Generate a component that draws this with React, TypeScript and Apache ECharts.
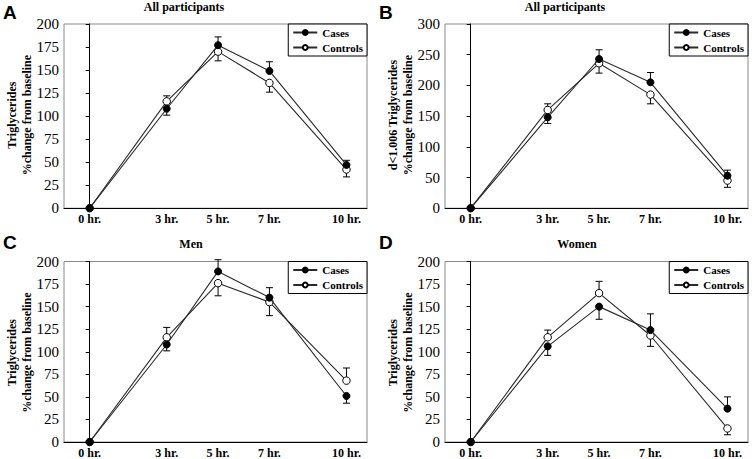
import React, { useEffect, useRef } from 'react';
import * as echarts from 'echarts';

// ---- data ----
const hours = [0, 3, 5, 7, 10];
const hourLabels = ['0 hr.', '3 hr.', '5 hr.', '7 hr.', '10 hr.'];

const panelLetters = ['A', 'B', 'C', 'D'];
const panelTitles = ['All participants', 'All participants', 'Men', 'Women'];
const yAxisNames = [
  'Triglycerides\n%change from baseline',
  'd<1.006 Triglycerides\n%change from baseline',
  'Triglycerides\n%change from baseline',
  'Triglycerides\n%change from baseline',
];
const yMaxes = [200, 300, 200, 200];
const yIntervals = [25, 50, 25, 25];

const casesA = [0, 108, 177, 149, 47];
const casesErrA = [0, -7, 9, 10, 5];
const controlsA = [0, 116, 170, 136, 42];
const controlsErrA = [0, 6, -10, -10, -8];

const casesB = [0, 148, 243, 205, 53];
const casesErrB = [0, -10, 15, 16, 9];
const controlsB = [0, 160, 236, 185, 45];
const controlsErrB = [0, 10, -16, -15, -11];

const casesC = [0, 108, 189, 160, 51];
const casesErrC = [0, -7, 13, 11, -8];
const controlsC = [0, 116, 176, 155, 68];
const controlsErrC = [0, 11, -14, -15, 14];

const casesD = [0, 106, 150, 124, 37];
const casesErrD = [0, -10, -14, 18, 13];
const controlsD = [0, 116, 165, 118, 15];
const controlsErrD = [0, 8, 13, -12, -7];

const casesAll = [casesA, casesB, casesC, casesD];
const casesErrAll = [casesErrA, casesErrB, casesErrC, casesErrD];
const controlsAll = [controlsA, controlsB, controlsC, controlsD];
const controlsErrAll = [controlsErrA, controlsErrB, controlsErrC, controlsErrD];

// ---- layout ----
const colLeft = [64, 445];
const rowTop = [24, 261.5];
const gridW = 303;
const gridH = 184.2;
const titleX = [184, 565, 191, 577];
const titleY = [7, 7, 244, 244];
const SERIF = '"Liberation Serif", "Times New Roman", serif';

function errorRender(params: any, api: any) {
  const x = api.value(0);
  const y = api.value(1);
  const e = api.value(2);
  if (!e) return null;
  const p0 = api.coord([x, y]);
  const p1 = api.coord([x, y + e]);
  const hw = 3.5;
  return {
    type: 'group',
    children: [
      { type: 'line', shape: { x1: p0[0], y1: p0[1], x2: p1[0], y2: p1[1] }, style: { stroke: '#000', lineWidth: 1 } },
      { type: 'line', shape: { x1: p1[0] - hw, y1: p1[1], x2: p1[0] + hw, y2: p1[1] }, style: { stroke: '#000', lineWidth: 1 } },
    ],
  };
}

export default function App() {
  const ref = useRef<HTMLDivElement>(null);
  useEffect(() => {
    document.body.style.margin = '0';
    if (!ref.current) return;
    const chart = echarts.init(ref.current, null, { renderer: 'svg' });

    const grids: any[] = [];
    const xAxes: any[] = [];
    const yAxes: any[] = [];
    const series: any[] = [];
    const legends: any[] = [];
    const graphics: any[] = [];

    for (let p = 0; p < 4; p++) {
      const col = p % 2;
      const row = Math.floor(p / 2);
      const left = colLeft[col];
      const top = rowTop[row];
      grids.push({
        left, top, width: gridW, height: gridH,
        show: true, borderColor: '#8a8a8a', borderWidth: 1, backgroundColor: 'transparent',
      });
      xAxes.push({
        type: 'value', gridIndex: p, min: -1, max: 10.8, interval: 1,
        axisLine: { show: true, onZero: false, lineStyle: { color: '#000', width: 1 } },
        axisTick: { show: false },
        splitLine: { show: false },
        axisLabel: {
          color: '#000', fontFamily: SERIF, fontWeight: 'bold', fontSize: 12, margin: 5,
          showMaxLabel: false, showMinLabel: false,
          formatter: (v: number) => {
            const i = hours.indexOf(Math.round(v * 10) / 10);
            return i >= 0 ? hourLabels[i] : '';
          },
        },
      });
      yAxes.push({
        type: 'value', gridIndex: p, min: 0, max: yMaxes[p], interval: yIntervals[p],
        axisLine: { show: true, lineStyle: { color: '#000', width: 1 } },
        axisTick: { show: true, length: 4, lineStyle: { color: '#000' } },
        splitLine: { show: false },
        axisLabel: { color: '#000', fontFamily: SERIF, fontSize: 15, margin: 5 },
      });

      series.push({
        type: 'custom', name: 'errCases' + p, xAxisIndex: p, yAxisIndex: p, z: 1,
        renderItem: errorRender, encode: { x: 0, y: 1 },
        data: hours.map((h, i) => [h, casesAll[p][i], casesErrAll[p][i]]),
      });
      series.push({
        type: 'custom', name: 'errControls' + p, xAxisIndex: p, yAxisIndex: p, z: 1,
        renderItem: errorRender, encode: { x: 0, y: 1 },
        data: hours.map((h, i) => [h, controlsAll[p][i], controlsErrAll[p][i]]),
      });
      series.push({
        type: 'line', name: 'Controls', xAxisIndex: p, yAxisIndex: p, z: 3,
        data: hours.map((h, i) => [h, controlsAll[p][i]]),
        symbol: 'circle', symbolSize: 7.5,
        lineStyle: { color: '#2a2a2a', width: 1.1 },
        itemStyle: { color: '#fff', borderColor: '#000', borderWidth: 1 },
      });
      series.push({
        type: 'line', name: 'Cases', xAxisIndex: p, yAxisIndex: p, z: 4,
        data: hours.map((h, i) => [h, casesAll[p][i]]),
        symbol: 'circle', symbolSize: 7,
        lineStyle: { color: '#2a2a2a', width: 1.1 },
        itemStyle: { color: '#000', borderColor: '#000', borderWidth: 1 },
      });

      legends.push({
        data: ['Cases', 'Controls'],
        orient: 'vertical',
        right: 752 - (left + gridW),
        top,
        padding: [3, 4, 3, 4],
        itemGap: 4,
        itemWidth: 24,
        itemHeight: 6,
        borderColor: '#000',
        borderWidth: 1,
        backgroundColor: '#fff',
        selectedMode: false,
        textStyle: { fontFamily: SERIF, fontWeight: 'bold', fontSize: 11, color: '#000' },
      });

      const ox = col * 376;
      const oy = row * 230;
      graphics.push({
        type: 'text', left: 3 + ox, top: 3 + oy,
        style: { text: panelLetters[p], font: 'bold 19px "Liberation Sans", Arial, sans-serif', fill: '#000' },
      });
      graphics.push({
        type: 'text', x: titleX[p], y: titleY[p],
        style: { text: panelTitles[p], font: 'bold 12px ' + SERIF, fill: '#000', align: 'center', verticalAlign: 'middle' },
      });
      graphics.push({
        type: 'text', x: left - 45, y: top + gridH / 2 - 1, rotation: Math.PI / 2,
        style: {
          text: yAxisNames[p], font: 'bold 12px ' + SERIF, fill: '#000',
          align: 'center', verticalAlign: 'middle', lineHeight: 15,
        },
      });
    }

    chart.setOption({
      animation: false,
      backgroundColor: '#fff',
      grid: grids,
      xAxis: xAxes,
      yAxis: yAxes,
      legend: legends,
      series,
      graphic: graphics,
    });
    return () => chart.dispose();
  }, []);
  return <div ref={ref} style={{ width: 752, height: 459 }} />;
}
